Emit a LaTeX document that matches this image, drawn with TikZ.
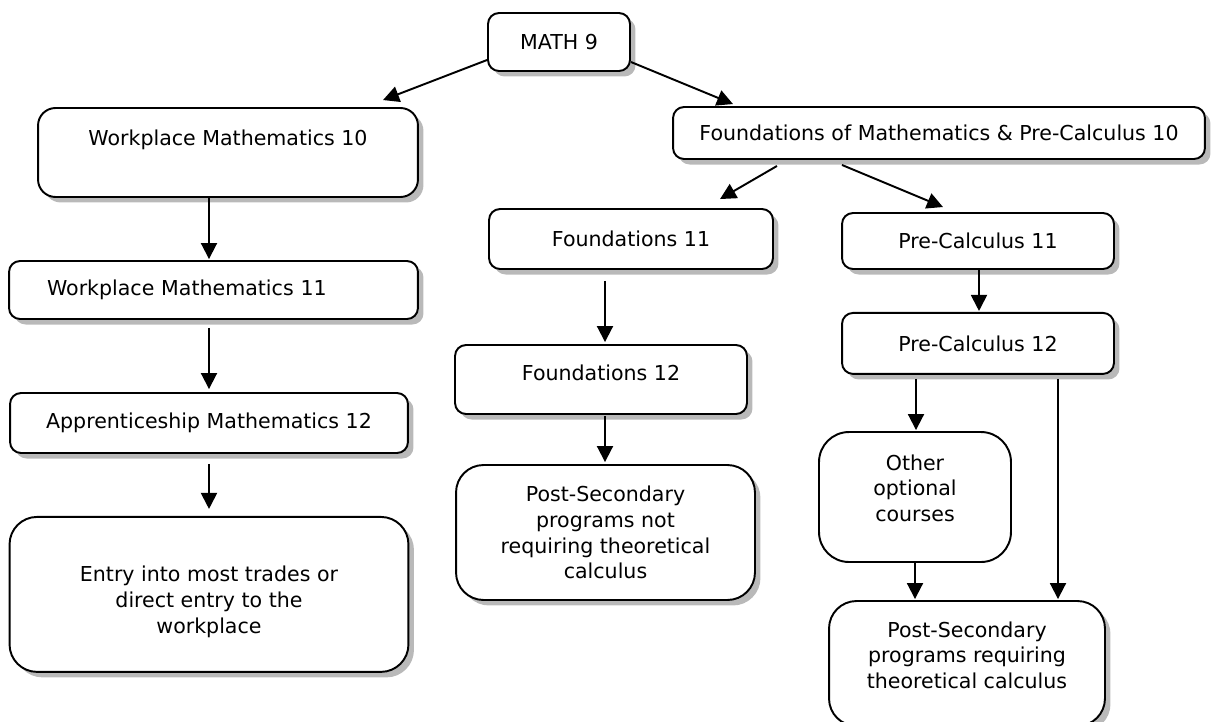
\documentclass[tikz,border=0pt]{standalone}
\usepackage{fontspec}
\setmainfont{DejaVu Sans}
\usepackage{tikz}
\usetikzlibrary{positioning,arrows.meta,calc,shadows}
\tikzset{
    course box/.style={rectangle, draw, line width=1.1pt, fill=white, rounded corners=0.22cm, font=\fontsize{11.7}{14.6}\selectfont},
    course/.style={course box, drop shadow={shadow xshift=0.11cm, shadow yshift=-0.11cm, opacity=0.55}},
    outcome/.style={course, rounded corners=0.55cm, align=center},
    flow arrow/.style={-{Triangle[length=0.32cm, width=0.32cm]}, line width=1.1pt}
}

\begin{document}
\begin{tikzpicture}[x=0.02cm, y=-0.02cm]
\useasboundingbox (0,0) rectangle (1211,721);

\node[course, minimum width=2.84cm, minimum height=1.16cm] (math9) at (559,42) {MATH 9};
\node[course, rounded corners=0.35cm, minimum width=7.6cm, minimum height=1.78cm, inner ysep=0pt, text height=0.75cm, text depth=1.03cm] (wm10) at (228,152.5) {Workplace Mathematics 10};
\node[course, minimum width=10.64cm, minimum height=1.04cm] (fmpc10) at (939,133) {Foundations of Mathematics \& Pre-Calculus 10};
\node[course, minimum width=5.68cm, minimum height=1.2cm] (f11) at (631,239) {Foundations 11};
\node[course, minimum width=5.44cm, minimum height=1.12cm] (pc11) at (978,241) {Pre-Calculus 11};
\node[course, minimum width=5.44cm, minimum height=1.22cm, below=0.84cm of pc11] (pc12) {Pre-Calculus 12};
\node[course, minimum width=8.18cm, minimum height=1.16cm, text width=6.66cm, inner xsep=0.76cm, align=left] (wm11) at (213.5,290) {Workplace Mathematics 11};
\node[course, minimum width=5.84cm, minimum height=1.38cm, inner ysep=0pt, text height=0.71cm, text depth=0.67cm] (f12) at (601,379.5) {Foundations 12};
\node[course, minimum width=7.96cm, minimum height=1.2cm] (am12) at (209,423) {Apprenticeship Mathematics 12};
\node[course box, rounded corners=0.6cm, align=center, minimum width=3.84cm, minimum height=2.6cm] (other) at (915,497) {Other\\optional\\courses\rule[-0.36cm]{0pt}{0pt}};
\node[outcome, minimum width=5.98cm, minimum height=2.7cm] (psnot) at (605.5,532.5) {Post-Secondary\\programs not\\requiring theoretical\\calculus};
\node[outcome, minimum width=7.98cm, minimum height=3.1cm, below=1.24cm of am12] (entry) {\rule{0pt}{0.61cm}Entry into most trades or\\direct entry to the\\workplace};
\node[outcome, minimum width=5.52cm, minimum height=2.5cm] (psreq) at (967,663.5) {Post-Secondary\\programs requiring\\theoretical calculus\rule[-0.34cm]{0pt}{0pt}};

\draw[flow arrow] ($(math9.west)+(0,18)$) -- ($(wm10.north)+(155,-7)$);
\draw[flow arrow] ($(math9.east)+(0,20)$) -- ($(fmpc10.north)+(-206,-2)$);
\draw[flow arrow] ($(wm10.south)+(-19,0)$) -- ($(wm11.north)+(-4.5,-1)$);
\draw[flow arrow] ($(wm11.south)+(-4.5,8)$) -- ($(am12.north)+(0,-3)$);
\draw[flow arrow] ($(am12.south)+(0,10)$) -- ($(entry.north)+(0,-7)$);
\draw[flow arrow] ($(fmpc10.south)+(-162,6)$) -- ($(f11.north)+(89,-9)$);
\draw[flow arrow] ($(fmpc10.south)+(-97,5)$) -- ($(pc11.north)+(-35,-5)$);
\draw[flow arrow] ($(f11.south)+(-26,11)$) -- ($(f12.north)+(4,-2)$);
\draw[flow arrow] ($(f12.south)+(4,1)$) -- ($(psnot.north)+(-0.5,-2)$);
\draw[flow arrow] ($(pc11.south)+(1,0)$) -- ($(pc12.north)+(1,-1)$);
\draw[flow arrow] ($(pc12.south)+(-62,4)$) -- ($(other.north)+(1,-1)$);
\draw[flow arrow] ($(pc12.south)+(80,4)$) -- ($(psreq.north)+(91,-1)$);
\draw[flow arrow] (other.south) -- ($(psreq.north)+(-52,-1)$);
\end{tikzpicture}
\end{document}
